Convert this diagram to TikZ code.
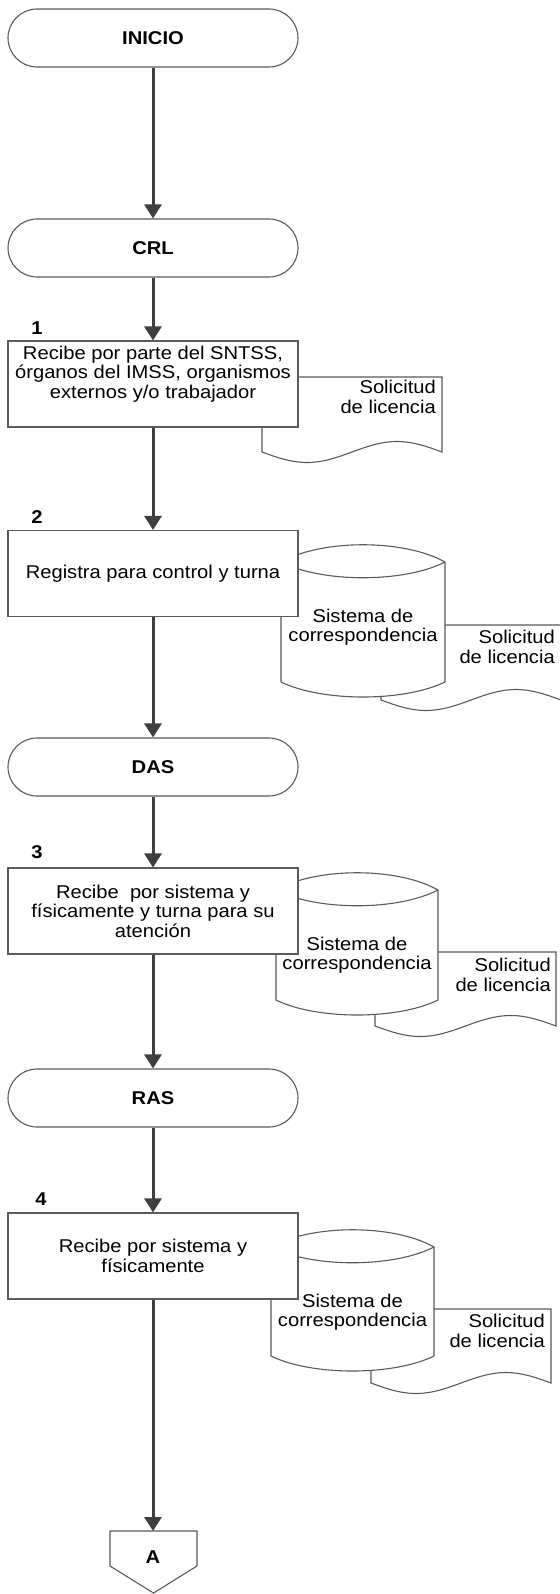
\documentclass[tikz,border=0pt]{standalone}
\usepackage{fontspec}
\setmainfont{Liberation Sans}[FakeStretch=1.09]
\usetikzlibrary{arrows.meta}

\definecolor{edgegray}{HTML}{5A5A5A}
\definecolor{flowgray}{HTML}{3F3F3F}

\tikzset{
  shapeline/.style={draw=edgegray, line width=1.1pt, fill=white},
  thinline/.style={draw=edgegray, line width=1.1pt},
  txt/.style={font=\fontsize{18.5}{19.5}\selectfont, inner sep=0pt},
  terminal/.style={shapeline, rounded corners=29pt, minimum width=290pt,
    minimum height=58pt, font=\fontsize{18.5}{19.5}\selectfont\bfseries},
  process/.style={shapeline, minimum width=290pt, minimum height=86pt,
    txt, align=center},
  centertext/.style={txt, align=center},
  doctext/.style={txt, align=right, anchor=east},
  steplabel/.style={font=\fontsize{18.5}{19.5}\selectfont\bfseries, inner sep=0pt},
  flow/.style={draw=flowgray, line width=3pt, -{Triangle[length=14pt,width=17pt]}},
}

% document symbol: left x, top y, wave base y, width
\newcommand\docshape[4]{%
  \path[shapeline] (#1,#2) -- (#1+#4,#2) -- (#1+#4,#3)
    sin (#1+0.75*#4,#3-10.5) cos (#1+0.5*#4,#3)
    sin (#1+0.25*#4,#3+10.5) cos (#1,#3) -- cycle;}

% stored data cylinder: left x, corner y of top, corner y of bottom, width
\newcommand\cylshape[4]{%
  \path[shapeline] (#1,#2) .. controls (#1+0.25*#4,#2-23) and (#1+0.75*#4,#2-23) .. (#1+#4,#2)
    -- (#1+#4,#3) .. controls (#1+0.75*#4,#3+20) and (#1+0.25*#4,#3+20) .. (#1,#3) -- cycle;
  \draw[thinline] (#1,#2) .. controls (#1+0.25*#4,#2+21) and (#1+0.75*#4,#2+21) .. (#1+#4,#2);}

\begin{document}
\begin{tikzpicture}[x=1pt,y=-1pt]
\useasboundingbox (0,0) rectangle (559,1594);

% documents behind the stores
\docshape{262}{377}{452}{180}
\node[doctext] (d1) at (436,397) {Solicitud\\de licencia};
\docshape{381}{625}{700}{180}
\node[doctext] (d2) at (555,647) {Solicitud\\de licencia};
\docshape{375}{952}{1026}{181}
\node[doctext] (d3) at (551,975) {Solicitud\\de licencia};
\docshape{371}{1309}{1383}{180}
\node[doctext] (d4) at (545,1331) {Solicitud\\de licencia};

% data stores
\cylshape{281}{562}{682}{164}
\node[centertext] (c2) at (363,627) {Sistema de\\correspondencia};
\cylshape{276}{890}{1000}{162}
\node[centertext] (c3) at (357,955) {Sistema de\\correspondencia};
\cylshape{271}{1247}{1356}{163}
\node[centertext] (c4) at (352.5,1312) {Sistema de\\correspondencia};

% terminals
\node[terminal] (inicio) at (153,38) {INICIO};
\node[terminal] (crl) at (153,248) {CRL};
\node[terminal] (das) at (153,767) {DAS};
\node[terminal] (ras) at (153,1098) {RAS};

% process steps
\node[steplabel] (n1) at (37,328) {1};
\node[process] (p1) at (153,384) {};
\node[centertext] (t1) at (153,374) {Recibe por parte del SNTSS,\\órganos del IMSS, organismos\\externos y/o trabajador};

\node[steplabel] (n2) at (37,517) {2};
\node[process] (p2) at (153,573.5) {Registra para control y turna};

\node[steplabel] (n3) at (37,852) {3};
\node[process] (p3) at (153,911) {Recibe~ por sistema y\\físicamente y turna para su\\atención};

\node[steplabel] (n4) at (41,1199) {4};
\node[process] (p4) at (153,1256) {Recibe por sistema y\\físicamente};

% off-page connector
\path[shapeline] (110,1531) -- (197,1531) -- (197,1566) -- (153.5,1593) -- (110,1566) -- cycle;
\coordinate (offA) at (153,1531);
\node[steplabel] (a) at (153,1557) {A};

% flow lines
\draw[flow] (inicio) -- (crl);
\draw[flow] (crl) -- (p1);
\draw[flow] (p1) -- (p2);
\draw[flow] (p2) -- (das);
\draw[flow] (das) -- (p3);
\draw[flow] (p3) -- (ras);
\draw[flow] (ras) -- (p4);
\draw[flow] (p4) -- (offA);
\end{tikzpicture}
\end{document}
